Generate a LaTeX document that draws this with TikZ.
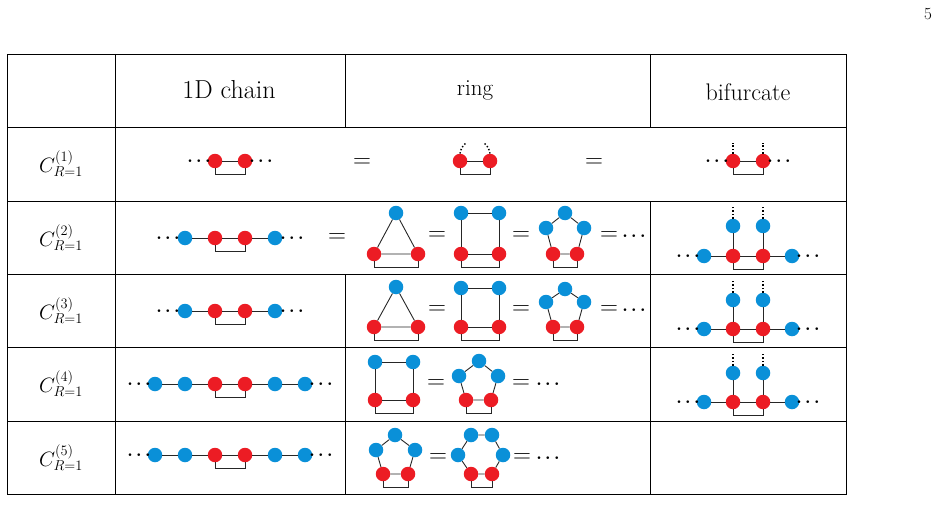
\documentclass[tikz,border=0pt]{standalone}
\begin{document}
\definecolor{rd}{HTML}{EC1C24}
\definecolor{bl}{HTML}{0A90D8}
\newcommand\mydots[2]{\node[dt] (#1) at #2 {$\cdots$};}
\newcommand\brk[2]{\draw[bk] (#1.south) -- ++(0,6) -| (#2.south);}
\newcommand\eqs[2]{\node[eqn] (#1) at #2 {$=$};}
\newcommand\shortchain[2]{%
 \node[bn] (#1b1) at (185,#2) {}; \node[rn] (#1r1) at (215,#2) {};
 \node[rn] (#1r2) at (245,#2) {}; \node[bn] (#1b2) at (275,#2) {};
 \mydots{#1d1}{(168,#2)}\mydots{#1d2}{(292,#2)}
 \draw[ed] (#1b1)--(#1r1)--(#1r2)--(#1b2); \brk{#1r1}{#1r2}}
\newcommand\longchain[2]{%
 \node[bn] (#1b0) at (155,#2) {}; \node[bn] (#1b1) at (185,#2) {}; \node[rn] (#1r1) at (215,#2) {};
 \node[rn] (#1r2) at (245,#2) {}; \node[bn] (#1b2) at (275,#2) {}; \node[bn] (#1b3) at (305,#2) {};
 \mydots{#1d1}{(139,#2)}\mydots{#1d2}{(321,#2)}
 \draw[ed] (#1b0)--(#1b1)--(#1r1)--(#1r2)--(#1b2)--(#1b3); \brk{#1r1}{#1r2}}
\newcommand\bif[3]{%
 \node[bn] (#1t1) at (733,#2) {}; \node[bn] (#1t2) at (763,#2) {};
 \node[rn] (#1r1) at (733,#3) {}; \node[rn] (#1r2) at (763,#3) {};
 \node[bn] (#1b1) at (704,#3) {}; \node[bn] (#1b2) at (792,#3) {};
 \coordinate (#1u1) at (733,#2-20); \coordinate (#1u2) at (763,#2-20);
 \mydots{#1d1}{(688,#3)}\mydots{#1d2}{(808,#3)}
 \draw[ed] (#1b1)--(#1r1)--(#1r2)--(#1b2) (#1t1)--(#1r1) (#1t2)--(#1r2);
 \draw[vd] (#1t1.north)--(#1u1) (#1t2.north)--(#1u2); \brk{#1r1}{#1r2}}
\begin{tikzpicture}[x=1pt,y=-1pt,
 nd/.style={circle,minimum size=14.5pt,inner sep=0pt},
 rn/.style={nd,fill=rd}, bn/.style={nd,fill=bl},
 ed/.style={line width=0.9pt,black!85},
 bk/.style={line width=0.9pt,black!85},
 vd/.style={line width=1.4pt,dotted},
 dt/.style={inner sep=0pt,font=\fontsize{17}{20}\selectfont\boldmath},
 eqn/.style={inner sep=0pt,font=\fontsize{24}{28}\selectfont},
 grid/.style={line width=0.7pt},
 lab/.style={font=\fontsize{20}{24}\selectfont}]
\useasboundingbox (0,0) rectangle (939,524);
\node[font=\fontsize{17}{20}\selectfont] (pg) at (928,14) {5};
% table
\draw[grid] (7,54) rectangle (846,494);
\foreach \yy in {127,201,274,347,421} \draw[grid] (7,\yy)--(846,\yy);
\draw[grid] (115,54)--(115,494);
\draw[grid] (345,54)--(345,127) (345,274)--(345,494);
\draw[grid] (650,54)--(650,127) (650,201)--(650,494);
\node[font=\fontsize{26}{30}\selectfont] (h1) at (229,90) {1D chain};
\node[font=\fontsize{23}{28}\selectfont] (h2) at (475,90) {ring};
\node[font=\fontsize{24}{28}\selectfont] (h3) at (748,92) {bifurcate};
\foreach \n/\yy in {1/164,2/238,3/311,4/384,5/458}
 \node[lab] (L\n) at (61,\yy) {$C^{(\n)}_{R=1}$};
% row 1
\node[rn] (ar1) at (215,161) {}; \node[rn] (ar2) at (245,161) {};
\mydots{ad1}{(199,161)}\mydots{ad2}{(261,161)}
\draw[ed] (ar1)--(ar2); \brk{ar1}{ar2}
\eqs{ae1}{(362,163)}\eqs{ae2}{(594,163)}
\node[rn] (ag1) at (460,161) {}; \node[rn] (ag2) at (490,161) {};
\coordinate (agu1) at (466,143); \coordinate (agu2) at (484,143);
\draw[ed] (ag1)--(ag2); \brk{ag1}{ag2}
\draw[vd] (ag1.north) to[bend left=20] (agu1);
\draw[vd] (ag2.north) to[bend right=20] (agu2);
\node[rn] (ab1) at (733,161) {}; \node[rn] (ab2) at (763,161) {};
\coordinate (abu1) at (733,143); \coordinate (abu2) at (763,143);
\mydots{abd1}{(717,161)}\mydots{abd2}{(779,161)}
\draw[ed] (ab1)--(ab2); \brk{ab1}{ab2}
\draw[vd] (ab1.north)--(abu1) (ab2.north)--(abu2);
% row 2
\shortchain{b}{238}
\eqs{be0}{(337,238)}
\node[bn] (bt0) at (396,213) {}; \node[rn] (bt1) at (374,254) {}; \node[rn] (bt2) at (418,254) {};
\draw[ed] (bt0)--(bt1)--(bt2)--(bt0); \brk{bt1}{bt2}
\eqs{be1}{(437,236)}
\node[bn] (bs1) at (461,213) {}; \node[bn] (bs2) at (499,213) {};
\node[rn] (bs3) at (461,254) {}; \node[rn] (bs4) at (499,254) {};
\draw[ed] (bs3)--(bs1)--(bs2)--(bs4)--(bs3); \brk{bs3}{bs4}
\eqs{be2}{(521,236)}
\node[bn] (bp1) at (565,213) {}; \node[bn] (bp2) at (546,228) {}; \node[bn] (bp3) at (584,228) {};
\node[rn] (bp4) at (553,254) {}; \node[rn] (bp5) at (577,254) {};
\draw[ed] (bp4)--(bp2)--(bp1)--(bp3)--(bp5)--(bp4); \brk{bp4}{bp5}
\eqs{be3}{(609,236)} \mydots{bdd}{(634,236)}
\bif{bb}{226}{256}
% row 3
\shortchain{c}{311}
\node[bn] (ct0) at (396,287) {}; \node[rn] (ct1) at (374,327) {}; \node[rn] (ct2) at (418,327) {};
\draw[ed] (ct0)--(ct1)--(ct2)--(ct0); \brk{ct1}{ct2}
\eqs{ce1}{(437,310)}
\node[bn] (cs1) at (461,288) {}; \node[bn] (cs2) at (499,288) {};
\node[rn] (cs3) at (461,327) {}; \node[rn] (cs4) at (499,327) {};
\draw[ed] (cs3)--(cs1)--(cs2)--(cs4)--(cs3); \brk{cs3}{cs4}
\eqs{ce2}{(521,310)}
\node[bn] (cp1) at (565,289) {}; \node[bn] (cp2) at (546,302) {}; \node[bn] (cp3) at (584,302) {};
\node[rn] (cp4) at (553,327) {}; \node[rn] (cp5) at (577,327) {};
\draw[ed] (cp4)--(cp2)--(cp1)--(cp3)--(cp5)--(cp4); \brk{cp4}{cp5}
\eqs{ce3}{(609,310)} \mydots{cdd}{(634,310)}
\bif{cb}{300}{329}
% row 4
\longchain{d}{384}
\node[bn] (ds1) at (375,362) {}; \node[bn] (ds2) at (413,362) {};
\node[rn] (ds3) at (375,400) {}; \node[rn] (ds4) at (413,400) {};
\draw[ed] (ds3)--(ds1)--(ds2)--(ds4)--(ds3); \brk{ds3}{ds4}
\eqs{de1}{(436,384)}
\node[bn] (dp1) at (479,361) {}; \node[bn] (dp2) at (459,376) {}; \node[bn] (dp3) at (498,376) {};
\node[rn] (dp4) at (466,400) {}; \node[rn] (dp5) at (491,400) {};
\draw[ed] (dp4)--(dp2)--(dp1)--(dp3)--(dp5)--(dp4); \brk{dp4}{dp5}
\eqs{de2}{(521,384)} \mydots{ddd}{(548,384)}
\bif{db}{373}{402}
% row 5
\longchain{e}{455}
\node[bn] (ep1) at (395,435) {}; \node[bn] (ep2) at (376,450) {}; \node[bn] (ep3) at (415,450) {};
\node[rn] (ep4) at (383,474) {}; \node[rn] (ep5) at (408,474) {};
\draw[ed] (ep4)--(ep2)--(ep1)--(ep3)--(ep5)--(ep4); \brk{ep4}{ep5}
\eqs{ee1}{(438,458)}
\node[bn] (eh1) at (471,435) {}; \node[bn] (eh2) at (492,435) {};
\node[bn] (eh3) at (458,455) {}; \node[bn] (eh4) at (503,455) {};
\node[rn] (eh5) at (471,474) {}; \node[rn] (eh6) at (492,474) {};
\draw[ed] (eh5)--(eh3)--(eh1)--(eh2)--(eh4)--(eh6)--(eh5); \brk{eh5}{eh6}
\eqs{ee2}{(522,458)} \mydots{edd}{(548,458)}
\end{tikzpicture}
\end{document}
